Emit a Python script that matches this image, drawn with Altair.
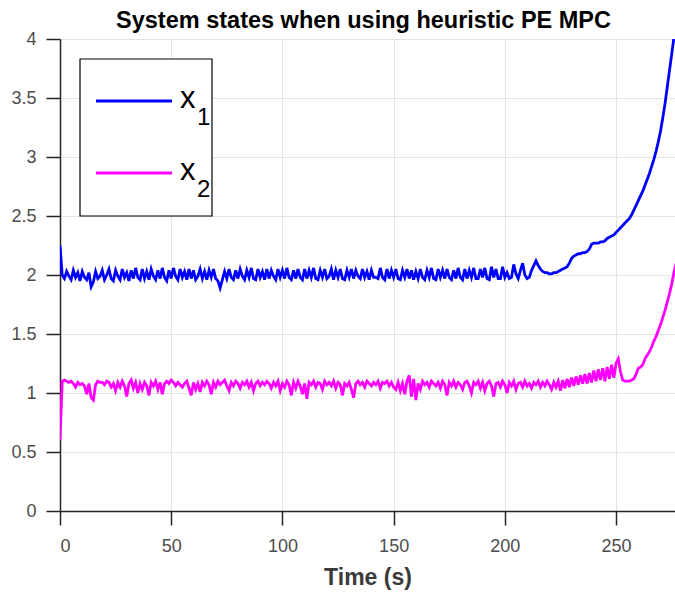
import altair as alt
import pandas as pd

# ---------------- data ----------------
TIME = list(range(0, 278))  # seconds

X1 = [
    2.25, 2.00, 1.97, 2.03, 1.99, 1.96, 2.04, 1.98, 2.02, 1.95,
    2.03, 1.98, 1.96, 2.02, 1.90, 1.94, 2.03, 1.97, 1.99, 2.04,
    1.96, 2.00, 2.05, 1.97, 1.95, 2.04, 1.99, 1.96, 2.05, 1.98,
    2.02, 1.95, 2.04, 1.97, 2.06, 1.98, 1.96, 2.05, 1.97, 2.03,
    1.96, 2.05, 1.99, 1.96, 2.04, 1.97, 2.06, 1.98, 1.95, 2.04,
    1.97, 2.06, 1.99, 1.96, 2.05, 1.98, 2.03, 1.96, 2.05, 1.97,
    2.04, 1.96, 1.99, 2.05, 1.97, 2.03, 1.96, 2.04, 1.98, 2.05,
    1.97, 1.95, 1.89, 1.96, 2.03, 1.97, 2.05, 1.98, 1.96, 2.04,
    1.97, 2.05, 1.99, 1.96, 2.04, 1.98, 2.06, 1.97, 1.96, 2.05,
    1.98, 2.03, 1.96, 2.05, 1.97, 2.04, 1.99, 1.96, 2.05, 1.98,
    2.04, 1.97, 2.06, 1.98, 1.96, 2.04, 1.97, 2.05, 1.98, 1.96,
    2.05, 1.97, 2.04, 1.98, 2.06, 1.97, 1.96, 2.04, 1.98, 2.05,
    1.97, 1.99, 2.05, 1.96, 2.04, 1.98, 2.05, 1.97, 1.96, 2.04,
    1.98, 2.05, 1.97, 2.04, 1.99, 1.97, 2.05, 1.98, 2.03, 1.96,
    2.04, 1.98, 1.98, 1.97, 2.06, 1.98, 1.96, 2.05, 1.97, 2.04,
    1.98, 2.05, 1.97, 1.96, 2.04, 1.98, 2.05, 1.97, 2.04, 1.96,
    2.03, 1.97, 2.05, 1.98, 1.96, 2.04, 1.98, 2.06, 1.97, 1.96,
    2.05, 1.98, 2.04, 1.97, 2.05, 1.98, 1.96, 2.04, 1.97, 2.06,
    1.98, 1.96, 2.05, 1.97, 2.04, 1.98, 2.06, 1.97, 1.97, 2.05,
    1.98, 2.06, 1.97, 1.96, 2.07, 1.98, 2.05, 1.97, 1.97, 2.07,
    1.98, 2.02, 1.97, 1.98, 2.09, 2.01, 1.97, 2.04, 2.10, 2.00,
    1.97, 1.98, 2.04, 2.08, 2.12, 2.08, 2.05, 2.03, 2.02, 2.02,
    2.01, 2.01, 2.02, 2.02, 2.03, 2.04, 2.05, 2.06, 2.07, 2.10,
    2.14, 2.16, 2.17, 2.18, 2.18, 2.19, 2.19, 2.20, 2.22, 2.26,
    2.27, 2.27, 2.27, 2.28, 2.28, 2.29, 2.31, 2.32, 2.33, 2.34,
    2.36, 2.38, 2.40, 2.42, 2.44, 2.46, 2.48, 2.51, 2.55, 2.59,
    2.63, 2.67, 2.71, 2.76, 2.81, 2.86, 2.92, 2.98, 3.05, 3.13,
    3.22, 3.33, 3.45, 3.59, 3.73, 3.87, 4.01, 4.15,
]

X2 = [
    0.60, 1.10, 1.11, 1.10, 1.09, 1.10, 1.08, 1.05, 1.09, 1.07,
    1.08, 1.06, 0.99, 1.08, 0.96, 0.94, 1.07, 1.10, 1.09, 1.09,
    1.07, 1.10, 1.09, 1.05, 1.08, 1.02, 1.09, 1.05, 1.10, 1.06,
    0.97, 1.08, 1.11, 1.04, 1.09, 1.00, 1.08, 1.03, 1.09, 1.06,
    0.98, 1.09, 1.06, 1.10, 1.03, 1.09, 0.99, 1.08, 1.10, 1.08,
    1.11, 1.09, 1.06, 1.09, 1.07, 1.05, 1.08, 1.10, 1.04, 0.98,
    1.09, 1.03, 1.08, 1.01, 1.09, 1.06, 1.10, 1.07, 0.99, 1.09,
    1.05, 1.10, 1.07, 1.09, 1.11, 1.06, 1.02, 1.09, 1.06, 1.10,
    1.08, 1.04, 1.09, 1.07, 1.10, 1.05, 1.09, 1.02, 1.08, 1.10,
    1.06, 1.09, 1.07, 1.10, 1.08, 1.04, 1.09, 1.06, 1.10, 1.02,
    1.08, 1.05, 1.10, 1.07, 0.98, 1.09, 1.04, 1.10, 1.06, 0.99,
    1.08, 0.95, 1.09, 1.07, 1.10, 1.05, 1.09, 1.08, 1.03, 1.10,
    1.07, 1.09, 1.06, 1.10, 1.04, 1.09, 1.07, 0.98, 1.08, 1.06,
    1.09, 1.03, 0.96, 1.08, 1.10, 1.07, 1.09, 1.05, 1.10, 1.08,
    1.06, 1.09, 1.07, 1.10, 1.04, 1.09, 1.08, 1.10, 1.06, 1.09,
    1.05, 1.03, 1.09, 1.02, 1.08, 0.99, 1.10, 1.15, 0.97, 1.12,
    0.94, 1.08, 1.03, 1.10, 1.07, 1.09, 1.05, 1.10, 1.08, 1.06,
    1.09, 1.04, 1.10, 1.07, 0.98, 1.09, 1.06, 1.10, 1.05, 1.09,
    1.07, 1.03, 1.09, 1.10, 1.06, 1.00, 1.09, 1.07, 1.10, 1.04,
    1.09, 1.02, 1.08, 1.10, 1.06, 0.97, 1.08, 1.09, 1.05, 1.10,
    1.07, 1.00, 1.09, 1.06, 1.10, 1.03, 1.08, 1.09, 1.05, 1.10,
    1.06, 1.08, 1.04, 1.09, 1.07, 1.10, 1.05, 1.09, 1.06, 1.10,
    1.07, 1.03, 1.09, 1.05, 1.10, 1.02, 1.11, 1.04, 1.12, 1.05,
    1.13, 1.06, 1.14, 1.07, 1.15, 1.08, 1.16, 1.08, 1.17, 1.09,
    1.19, 1.10, 1.20, 1.11, 1.21, 1.10, 1.22, 1.12, 1.24, 1.13,
    1.25, 1.29, 1.18, 1.11, 1.10, 1.10, 1.10, 1.11, 1.12, 1.16,
    1.21, 1.22, 1.24, 1.29, 1.32, 1.35, 1.39, 1.44, 1.48, 1.53,
    1.58, 1.64, 1.70, 1.77, 1.84, 1.92, 2.02, 2.10,
]

SERIES = ["x1", "x2"]
COLORS = ["#0000ff", "#ff00ff"]
X_TICKS = [0, 50, 100, 150, 200, 250]
Y_TICKS = [0, 0.5, 1, 1.5, 2, 2.5, 3, 3.5, 4]
TITLE = "System states when using heuristic PE MPC"
X_TITLE = "Time (s)"

# ---------------- build table ----------------
df = pd.concat([
    pd.DataFrame({"t": TIME, "v": X1, "s": SERIES[0]}),
    pd.DataFrame({"t": TIME, "v": X2, "s": SERIES[1]}),
])

FONT = "Liberation Sans"
AXIS_COL = "#262626"
LABEL_COL = "#4d4d4d"

lines = alt.Chart(df).mark_line(strokeWidth=2.8, clip=True).encode(
    x=alt.X("t:Q",
            scale=alt.Scale(domain=[0, 276.5], nice=False, zero=False),
            axis=alt.Axis(values=X_TICKS, title=X_TITLE, format="d")),
    y=alt.Y("v:Q",
            scale=alt.Scale(domain=[0, 4], nice=False),
            axis=alt.Axis(values=Y_TICKS, title=None, format="~g")),
    color=alt.Color("s:N", scale=alt.Scale(domain=SERIES, range=COLORS), legend=None),
    detail="s:N",
)

# ---------------- hand-drawn legend (MATLAB style) ----------------
box = alt.Chart(df.head(1)).mark_rect(fill="white", stroke="black", strokeWidth=1.2).encode(
    x=alt.value(20), x2=alt.value(152), y=alt.value(20), y2=alt.value(177)
)
leg_x1 = alt.Chart(df.head(1)).mark_rule(color=COLORS[0], strokeWidth=2.8).encode(
    x=alt.value(36), x2=alt.value(112), y=alt.value(62)
)
leg_x2 = alt.Chart(df.head(1)).mark_rule(color=COLORS[1], strokeWidth=2.8).encode(
    x=alt.value(36), x2=alt.value(112), y=alt.value(134)
)
def txt(s, x, y, size):
    return alt.Chart(df.head(1)).mark_text(
        text=s, font=FONT, fontSize=size, color="black", align="left", baseline="alphabetic"
    ).encode(x=alt.value(x), y=alt.value(y))

legend = (box + leg_x1 + leg_x2
          + txt("x", 120, 69, 31) + txt("1", 137, 86, 24)
          + txt("x", 120, 141, 31) + txt("2", 137, 158, 24))

chart = (lines + legend).properties(
    width=615, height=472,
    title=alt.TitleParams(TITLE, font=FONT, fontSize=23.5, fontWeight="bold",
                          color="black", anchor="middle", offset=-2, dx=-4),
    padding={"left": 60, "top": 39, "right": 0, "bottom": 86},
    autosize=alt.AutoSizeParams(type="none"),
).configure_view(
    stroke=None
).configure_axis(
    labelFont=FONT, labelFontSize=18, labelColor=LABEL_COL,
    titleFont=FONT, titleFontSize=23, titleFontWeight="bold", titleColor="#3a3a3a",
    domainColor=AXIS_COL, domainWidth=1.5,
    tickColor=AXIS_COL, tickWidth=1.5, tickSize=14,
    grid=True, gridColor="#e3e3e3", gridWidth=1,
    labelPadding=8,
).configure_axisX(
    labelPadding=12,
    titlePadding=11,
).configure_axisY(
    labelPadding=10,
)

chart.save("out.html", embed_options={"renderer": "svg", "actions": False})
